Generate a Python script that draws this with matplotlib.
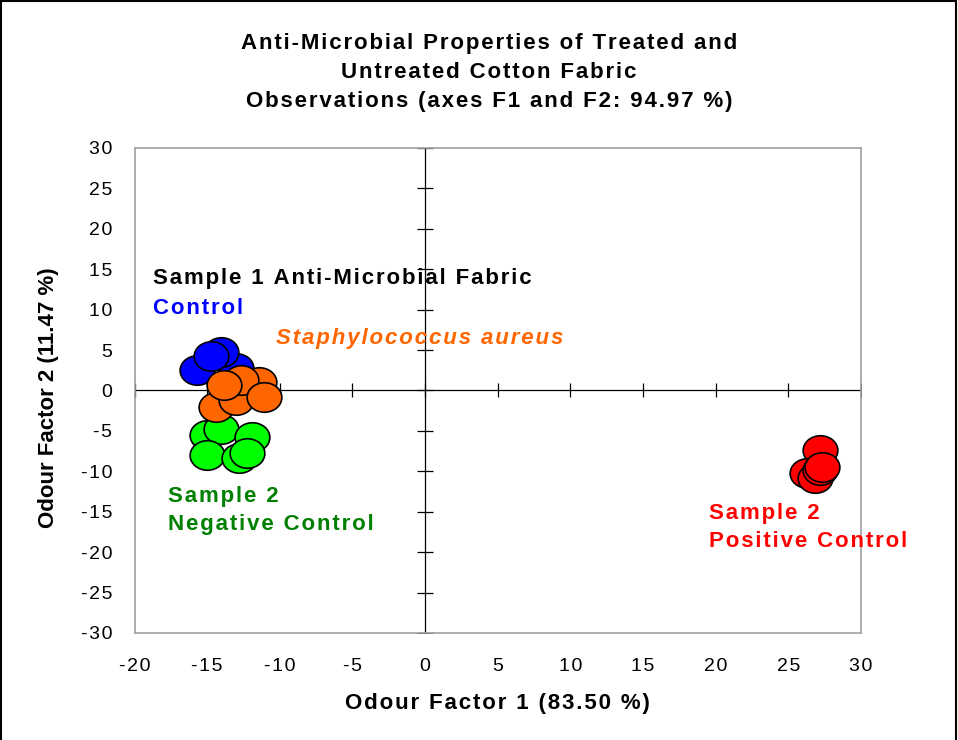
import matplotlib
matplotlib.use('Agg')
import matplotlib.pyplot as plt
import numpy as np
from matplotlib.path import Path
from matplotlib.patches import Rectangle

plt.rcParams['font.family'] = ['Liberation Sans', 'DejaVu Sans']
plt.rcParams['axes.unicode_minus'] = False

blue_x = [-15.67, -13.04, -14.07, -14.71]
blue_y = [2.54, 2.78, 4.80, 4.31]
orange_x = [-14.42, -13.04, -11.44, -12.70, -13.84, -11.09]
orange_y = [-2.00, -1.18, 1.09, 1.30, 0.68, -0.77]
green_x = [-14.99, -14.07, -11.89, -14.99, -12.81, -12.24]
green_y = [-5.51, -4.76, -5.72, -7.98, -8.39, -7.77]
red_x = [27.19, 26.28, 26.85, 27.19, 27.31]
red_y = [-7.36, -10.24, -10.86, -9.84, -9.43]

xticks = [-20, -15, -10, -5, 0, 5, 10, 15, 20, 25, 30]
yticks = [-30, -25, -20, -15, -10, -5, 0, 5, 10, 15, 20, 25, 30]

title = 'Anti-Microbial Properties of Treated and\nUntreated Cotton Fabric\nObservations (axes F1 and F2: 94.97 %)'
xlabel = 'Odour Factor 1 (83.50 %)'
ylabel = 'Odour Factor 2 (11.47 %)'


def spaced(s):
    # the original chart has wide letter spacing, mimic it with hair spaces
    return '\n'.join('\u200a'.join(line) for line in s.split('\n'))


# slightly flattened circle as marker
circ = Path.unit_circle()
ell = Path(circ.vertices * np.array([1.0, 0.85]), circ.codes)

fig = plt.figure(figsize=(9.58, 7.40), dpi=100)
ax = fig.add_axes([0.1404, 0.1446, 0.7584, 0.6554])

ax.axhline(0, color='black', lw=0.9, zorder=1)
ax.axvline(0, color='black', lw=0.9, zorder=1)
ax.plot(xticks, [0] * len(xticks), ls='none', marker='|', ms=9.5, mew=0.9, color='black', zorder=1)
ax.plot([0] * len(yticks), yticks, ls='none', marker='_', ms=11.5, mew=0.9, color='black', zorder=1)

ms = 25
ax.plot(green_x, green_y, ls='none', marker=ell, ms=ms, mfc='#00ff00', mec='black', mew=1.2, zorder=3)
ax.plot(blue_x, blue_y, ls='none', marker=ell, ms=ms, mfc='#0000ff', mec='black', mew=1.2, zorder=3)
ax.plot(orange_x, orange_y, ls='none', marker=ell, ms=ms, mfc='#ff6600', mec='black', mew=1.2, zorder=3)
ax.plot(red_x, red_y, ls='none', marker=ell, ms=ms, mfc='#ff0000', mec='black', mew=1.2, zorder=3)

ax.set_xlim(-20, 30)
ax.set_ylim(-30, 30)
ax.set_xticks(xticks)
ax.set_xticklabels([spaced(str(t)) for t in xticks])
ax.set_yticks(yticks)
ax.set_yticklabels([spaced(str(t)) for t in yticks])
ax.tick_params(length=0, labelsize=14, colors='black')
ax.tick_params(axis='x', pad=18)
ax.tick_params(axis='y', pad=16)
for s in ax.spines.values():
    s.set_color('#a0a0a0')
    s.set_linewidth(1.2)

ax.set_xlabel(spaced(xlabel), fontsize=16, fontweight='bold', labelpad=13)
ax.set_ylabel(ylabel, fontsize=16, fontweight='bold')
ax.yaxis.set_label_coords(-0.104, 0.485)

fig.text(0.5104, 0.9027, spaced(title), ha='center', va='center',
         fontsize=16, fontweight='bold', linespacing=1.5)

lbl = dict(fontsize=16, fontweight='bold', va='center', ha='left')
ax.text(-18.75, 13.8, spaced('Sample 1 Anti-Microbial Fabric'), color='black', **lbl)
ax.text(-18.75, 10.1, spaced('Control'), color='#0000ff', **lbl)
ax.text(-10.28, 6.4, spaced('Staphylococcus aureus'), color='#ff6600', style='italic', **lbl)
ax.text(-17.7, -14.8, spaced('Sample 2\nNegative Control'), color='#008000', linespacing=1.45, **lbl)
ax.text(19.56, -16.95, spaced('Sample 2\nPositive Control'), color='#ff0000', linespacing=1.45, **lbl)

fig.patches.append(Rectangle((0.001, -0.01), 0.997, 1.008, transform=fig.transFigure,
                             fill=False, edgecolor='black', lw=1.5))

fig.savefig('out.png', dpi=100)
